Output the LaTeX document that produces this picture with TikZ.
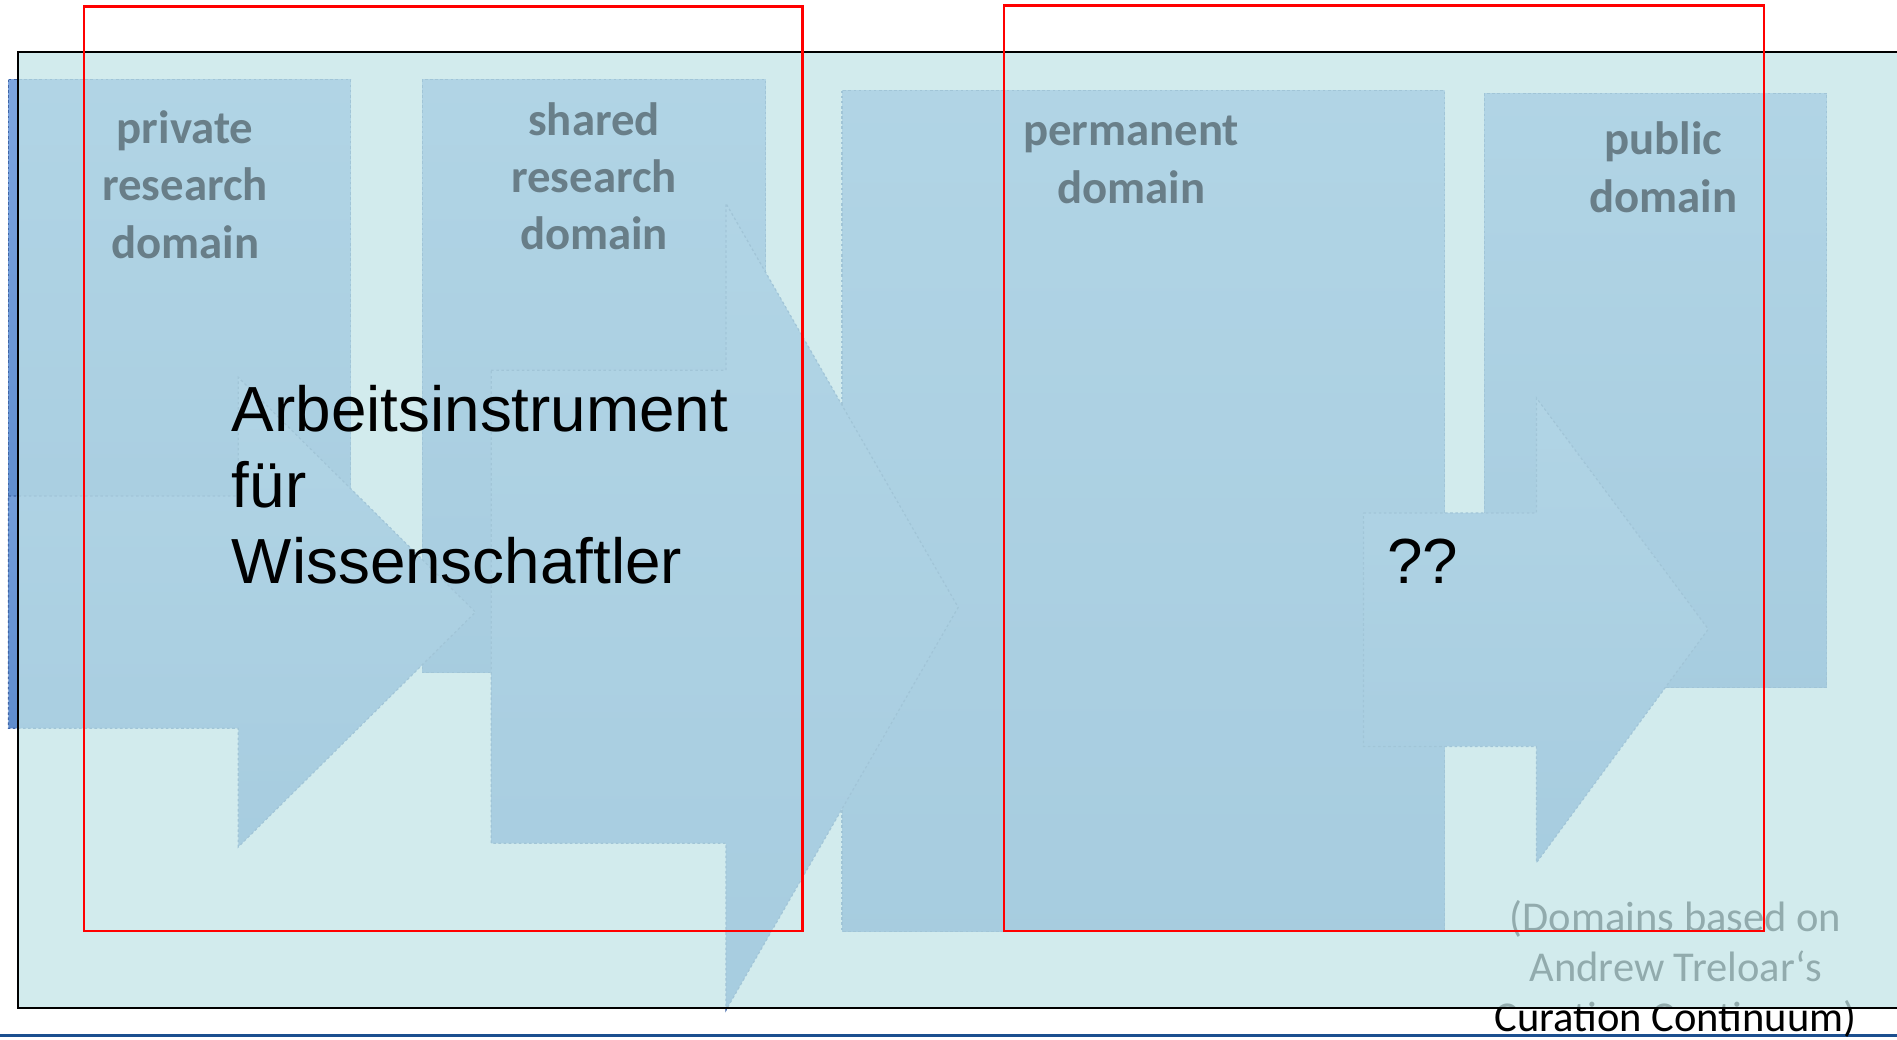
\documentclass[tikz,border=0pt]{standalone}
\usepackage{fontspec}
\setmainfont{Carlito}
\newfontfamily\arialfont{Liberation Sans}
\definecolor{domtop}{HTML}{7DA5DF}
\definecolor{dombottom}{HTML}{5585C8}
\definecolor{domedge}{HTML}{3F66A8}
\definecolor{panelcyan}{HTML}{C3E5E8}
\definecolor{rulerblue}{HTML}{1B4F8F}
\tikzset{
  domainbox/.style={top color=domtop, bottom color=dombottom, draw=domedge, line width=0.3pt, dash pattern=on 0.6pt off 0.6pt},
  blockarrow/.style={domainbox},
  domainlabel/.style={font=\fontsize{11}{13.5}\selectfont\bfseries, text opacity=0.4, align=center, anchor=base, inner sep=0pt},
  notetext/.style={font=\fontsize{10}{11.8}\selectfont, align=center, anchor=base, inner sep=0pt},
  worktext/.style={font=\arialfont\fontsize{15}{17.8}\selectfont, align=left, anchor=base west, inner sep=0pt},
  panel/.style={fill=panelcyan, fill opacity=0.75},
  markbox/.style={draw=red, line width=0.6pt},
}

\begin{document}
\begin{tikzpicture}[x=0.1mm, y=-0.1mm]
  \useasboundingbox[fill=white] (0,0) rectangle (1568,859);
  \draw[rulerblue, line width=0.7pt] (0,856) -- (1568,856);

  % the four domains
  \path[domainbox] (7,66) rectangle (290,556);
  \path[domainbox] (349,66) rectangle (633,556);
  \path[domainbox] (696,75) rectangle (1194,770);
  \path[domainbox] (1227,77) rectangle (1510,568);

  % block arrows between them
  \path[blockarrow] (7,410) -- (197,410) -- (197,312) -- (393,506) -- (197,700) -- (197,602) -- (7,602) -- cycle;
  \path[blockarrow] (406,306) -- (600,306) -- (600,168) -- (792,502) -- (600,835) -- (600,697) -- (406,697) -- cycle;
  \path[blockarrow] (1127,424) -- (1270,424) -- (1270,329) -- (1412,520) -- (1270,713) -- (1270,617) -- (1127,617) -- cycle;

  \node[notetext] (treloar) at (1385,853) {(Domains based on\\Andrew Treloar‘s\\Curation Continuum)};

  % translucent panel over everything
  \fill[panel] (15,43) rectangle (1568,833);
  \draw[line width=0.45pt] (1568,43) -| (15,833) -- (1568,833);

  \node[domainlabel] (privlabel) at (153,213.5) {private\\research\\domain};
  \node[domainlabel] (sharedlabel) at (491,206.6) {shared\\research\\domain};
  \node[domainlabel] (permlabel) at (935,168) {permanent\\domain};
  \node[domainlabel] (publabel) at (1375,175.5) {public\\domain};

  \node[worktext] (worktool) at (191,482) {Arbeitsinstrument\\für\\Wissenschaftler};
  \node[worktext] (unknown) at (1146,482) {??};

  \draw[markbox] (69.5,5.5) rectangle (663.5,769.5);
  \draw[markbox] (830,4.5) rectangle (1458,769.5);
\end{tikzpicture}
\end{document}
